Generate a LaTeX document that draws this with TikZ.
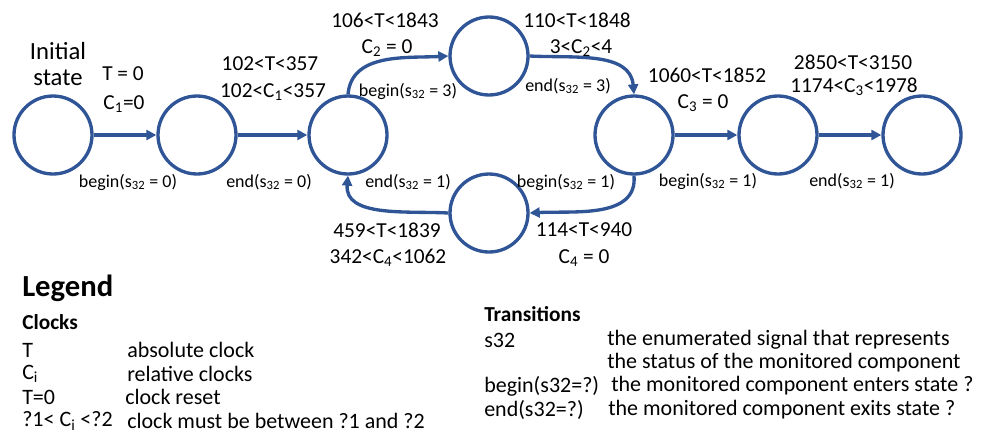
\documentclass[tikz,border=0pt]{standalone}
\usepackage{fontspec}
\setmainfont{Carlito}
\usetikzlibrary{arrows.meta}

\definecolor{stblue}{RGB}{47,85,151}

\tikzset{
  st/.style={circle,draw=stblue,line width=2.5pt,minimum size=58.5pt,inner sep=0pt},
  tr/.style={draw=stblue,line width=2.5pt,-{Triangle[length=7.5pt,width=7.5pt]}},
  guard/.style={font=\fontsize{16}{18}\selectfont,inner sep=0pt},
  evt/.style={font=\fontsize{13.5}{15}\selectfont,inner sep=0pt},
  leg/.style={font=\fontsize{16.5}{18}\selectfont,anchor=west,inner sep=0pt},
}

\begin{document}
\begin{tikzpicture}[x=0.75pt,y=-0.75pt]
   \useasboundingbox (0,0) rectangle (987,440);
   % states
   \node[st] (s1) at (53,135) {};
   \node[st] (s2) at (197,135) {};
   \node[st] (s3) at (348,135) {};
   \node[st] (up) at (489,56) {};
   \node[st] (dn) at (489,213) {};
   \node[st] (s5) at (634,135) {};
   \node[st] (s6) at (778,135) {};
   \node[st] (s7) at (922,135) {};
   % transitions
   \draw[tr] (s1) -- (s2);
   \draw[tr] (s2) -- (s3);
   \draw[tr] (s3.north) to[out=85,in=183] (up.west);
   \draw[tr] (up.east) to[out=-3,in=95] (s5.north);
   \draw[tr] (s5.south) to[out=-85,in=3] (dn.east);
   \draw[tr] (dn.west) to[out=177,in=-95] (s3.south);
   \draw[tr] (s5) -- (s6);
   \draw[tr] (s6) -- (s7);
   % labels
   \node[font=\fontsize{18.5}{20}\selectfont,align=center] (init) at (58,64) {Initial\\[0pt]state};
   \node[guard] (g1a) at (123,74) {T = 0};
   \node[guard] (g1b) at (124,104) {C\textsubscript{1}=0};
   \node[evt] (e1) at (128,182) {begin(s\textsubscript{32} = 0)};
   \node[guard] (g2a) at (270,64) {102<T<357};
   \node[guard] (g2b) at (273,92) {102<C\textsubscript{1}<357};
   \node[evt] (e2) at (269,182) {end(s\textsubscript{32} = 0)};
   \node[guard] (g3a) at (385,20) {106<T<1843};
   \node[guard] (g3b) at (387,48) {C\textsubscript{2} = 0};
   \node[evt] (e3) at (408,91) {begin(s\textsubscript{32} = 3)};
   \node[guard] (g4a) at (577,20) {110<T<1848};
   \node[guard] (g4b) at (581,48) {3<C\textsubscript{2}<4};
   \node[evt] (e4) at (568,86) {end(s\textsubscript{32} = 3)};
   \node[evt] (e5) at (566,182) {begin(s\textsubscript{32} = 1)};
   \node[guard] (g5a) at (584,230) {114<T<940};
   \node[guard] (g5b) at (584,258) {C\textsubscript{4} = 0};
   \node[evt] (e6) at (408,182) {end(s\textsubscript{32} = 1)};
   \node[guard] (g6a) at (387,230) {459<T<1839};
   \node[guard] (g6b) at (388,258) {342<C\textsubscript{4}<1062};
   \node[guard] (g7a) at (707,75) {1060<T<1852};
   \node[guard] (g7b) at (703,103) {C\textsubscript{3} = 0};
   \node[evt] (e7) at (708,181) {begin(s\textsubscript{32} = 1)};
   \node[guard] (g8a) at (853,62) {2850<T<3150};
   \node[guard] (g8b) at (854,87) {1174<C\textsubscript{3}<1978};
   \node[evt] (e8) at (852,181) {end(s\textsubscript{32} = 1)};
   % legend
   \node[leg,font=\fontsize{23}{25}\bfseries] (legend) at (22,288) {Legend};
   \node[leg,font=\fontsize{16}{18}\bfseries] (clocks) at (22,322) {Clocks};
   \node[leg] (k1) at (22,350) {T};
   \node[leg] (d1) at (127,350) {absolute clock};
   \node[leg] (k2) at (22,374) {C\textsubscript{i}};
   \node[leg] (d2) at (127,374) {relative clocks};
   \node[leg] (k3) at (22,397) {T=0};
   \node[leg] (d3) at (125,397) {clock reset};
   \node[leg] (k4) at (22,421) {?1< C\textsubscript{i} <?2};
   \node[leg] (d4) at (127,421) {clock must be between ?1 and ?2};
   \node[leg,font=\fontsize{16}{18}\bfseries] (trans) at (484,314) {Transitions};
   \node[leg] (t1) at (484,340) {s32};
   \node[leg] (u1) at (607,340) {the enumerated signal that represents};
   \node[leg] (u1b) at (607,363) {the status of the monitored component};
   \node[leg] (t2) at (484,386) {begin(s32=?)};
   \node[leg] (u2) at (611,386) {the monitored component enters state ?};
   \node[leg] (t3) at (484,410) {end(s32=?)};
   \node[leg] (u3) at (608,410) {the monitored component exits state ?};
\end{tikzpicture}
\end{document}
